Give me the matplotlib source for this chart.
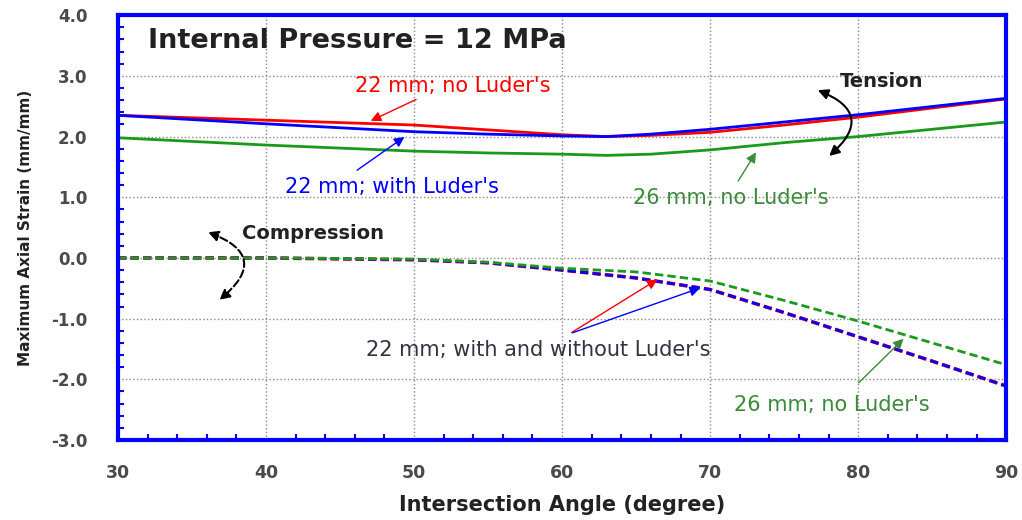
import matplotlib.pyplot as plt
from matplotlib.ticker import MultipleLocator

plt.rcParams['font.family'] = ['DejaVu Sans']

# tension (solid) curves
angle = [30, 40, 50, 55, 60, 63, 66, 70, 75, 80, 90]
t22_no = [2.35, 2.27, 2.19, 2.11, 2.03, 2.00, 2.02, 2.07, 2.19, 2.32, 2.62]
t22_with = [2.35, 2.21, 2.08, 2.04, 2.01, 2.00, 2.04, 2.12, 2.24, 2.36, 2.63]
t26_no = [1.98, 1.86, 1.76, 1.73, 1.71, 1.69, 1.71, 1.78, 1.90, 2.00, 2.24]

# compression (dashed) curves
angle_c = [30, 40, 50, 55, 60, 65, 70, 75, 80, 85, 90]
c22 = [0.0, 0.0, -0.03, -0.08, -0.20, -0.33, -0.52, -0.90, -1.30, -1.70, -2.11]
c26 = [0.0, 0.0, -0.02, -0.07, -0.17, -0.23, -0.38, -0.70, -1.04, -1.40, -1.76]

green = '#1a9a1a'
tgreen = '#3a8a3a'
fs = 15

fig = plt.figure(figsize=(10.22, 5.20), dpi=100)
ax = fig.add_axes([0.1155, 0.1538, 0.869, 0.817])

ax.plot(angle, t22_no, color='red', lw=2)
ax.plot(angle, t22_with, color='blue', lw=2)
ax.plot(angle, t26_no, color=green, lw=2)
ax.plot(angle_c, c22, color='red', lw=2.6, ls=(0.0, (3 * 2 / 2.6, 1.5 * 2 / 2.6)))
ax.plot(angle_c, c22, color='blue', lw=2, ls=(0, (3, 1.5)))
ax.plot(angle_c, c26, color=green, lw=2, ls=(0, (3, 1.5)))

ax.set_xlim(30, 90)
ax.set_ylim(-3, 4)
ax.xaxis.set_major_locator(MultipleLocator(10))
ax.xaxis.set_minor_locator(MultipleLocator(2))
ax.yaxis.set_major_locator(MultipleLocator(1))
ax.yaxis.set_minor_locator(MultipleLocator(0.2))
ax.yaxis.set_major_formatter(plt.FormatStrFormatter('%.1f'))
ax.grid(True, which='major', color='#888888', ls=':', lw=1)
ax.tick_params(which='both', direction='in', color='blue', width=1.5,
               labelsize=12, labelcolor='#4a4a4a')
ax.tick_params(which='major', length=0)
ax.tick_params(which='minor', length=4)
ax.tick_params(axis='x', pad=17, labelsize=12.5)
ax.tick_params(axis='y', pad=22)
for lab in ax.get_xticklabels() + ax.get_yticklabels():
    lab.set_fontweight('bold')
for s in ax.spines.values():
    s.set_color('blue')
    s.set_linewidth(3)

ax.set_xlabel('Intersection Angle (degree)', fontsize=15, fontweight='bold',
              color='#222222')
ax.set_ylabel('Maximum Axial Strain (mm/mm)', fontsize=11, fontweight='bold',
              color='#222222')
ax.xaxis.set_label_coords(0.5, -0.13)
ax.yaxis.set_label_coords(-0.096, 0.5)

ax.text(32, 3.57, 'Internal Pressure = 12 MPa', fontsize=19.5, fontweight='bold',
        color='#222222', va='center')

ax.text(52.6, 2.83, "22 mm; no Luder's", color='red', fontsize=fs,
        ha='center', va='center')
ax.annotate('', xy=(46.9, 2.24), xytext=(50.3, 2.63),
            arrowprops=dict(arrowstyle='-|>', color='red', lw=1, mutation_scale=15))

ax.text(48.5, 1.17, "22 mm; with Luder's", color='blue', fontsize=fs,
        ha='center', va='center')
ax.annotate('', xy=(49.5, 2.02), xytext=(46.0, 1.42),
            arrowprops=dict(arrowstyle='-|>', color='blue', lw=1, mutation_scale=15))

ax.text(71.4, 0.99, "26 mm; no Luder's", color=tgreen, fontsize=fs,
        ha='center', va='center')
ax.annotate('', xy=(73.2, 1.78), xytext=(71.8, 1.23),
            arrowprops=dict(arrowstyle='-|>', color=tgreen, lw=1, mutation_scale=15))

ax.text(58.4, -1.52, "22 mm; with and without Luder's", color='#333344',
        fontsize=fs, ha='center', va='center')
ax.annotate('', xy=(66.6, -0.33), xytext=(60.5, -1.25),
            arrowprops=dict(arrowstyle='-|>', color='red', lw=1, mutation_scale=15))
ax.annotate('', xy=(69.5, -0.48), xytext=(60.5, -1.25),
            arrowprops=dict(arrowstyle='-|>', color='blue', lw=1, mutation_scale=15))

ax.text(78.2, -2.42, "26 mm; no Luder's", color=tgreen, fontsize=fs,
        ha='center', va='center')
ax.annotate('', xy=(83.2, -1.30), xytext=(79.9, -2.09),
            arrowprops=dict(arrowstyle='-|>', color=tgreen, lw=1, mutation_scale=15))

ax.text(81.6, 2.91, 'Tension', color='#222222', fontsize=14, fontweight='bold',
        ha='center', va='center')
ax.annotate('', xy=(77.9, 1.65), xytext=(77.1, 2.78),
            arrowprops=dict(arrowstyle='<|-|>', color='black', lw=1.5,
                            mutation_scale=15, connectionstyle='arc3,rad=-0.85'))

ax.text(43.2, 0.41, 'Compression', color='#222222', fontsize=14, fontweight='bold',
        ha='center', va='center')
ax.annotate('', xy=(36.7, -0.72), xytext=(35.9, 0.44),
            arrowprops=dict(arrowstyle='<|-|>', color='black', lw=1.5, ls='--',
                            mutation_scale=15, connectionstyle='arc3,rad=-0.9'))

fig.savefig('out.png', dpi=100)
